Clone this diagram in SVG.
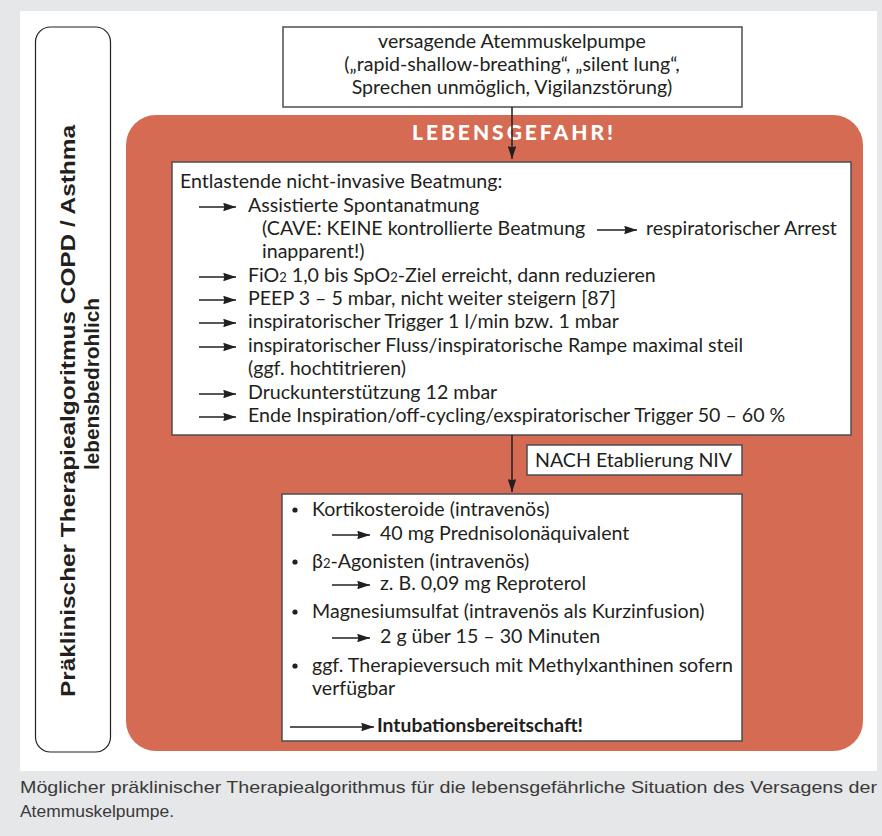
<svg xmlns="http://www.w3.org/2000/svg" width="882" height="836" viewBox="0 0 882 836">
<defs>
<marker id="ah" viewBox="0 0 12 8" refX="12" refY="4" markerWidth="13" markerHeight="8.5" markerUnits="userSpaceOnUse" orient="auto">
<path d="M0,0 L12,4 L0,8 L1,4 Z" fill="#231f20"/>
</marker>
<style>
.t{font-family:Lato,"Open Sans",sans-serif;font-size:19.6px;fill:#231f20}
.box{fill:#fff;stroke:#4d4d4f;stroke-width:1.5}
.ar{stroke:#231f20;stroke-width:1.3;fill:none;marker-end:url(#ah)}
.cn{stroke:#231f20;stroke-width:1.5;fill:none;marker-end:url(#ah)}
</style>
</defs>
<rect x="0" y="0" width="882" height="836" fill="#e6e7e8"/>
<rect x="20" y="11" width="857" height="760" fill="#fff"/>

<g id="side">
<rect x="35.5" y="27" width="75" height="725" rx="15" fill="#fff" stroke="#231f20" stroke-width="1.2"/>
<text transform="translate(75,411) rotate(-90)" text-anchor="middle" font-family="'Liberation Sans',sans-serif" font-weight="bold" font-size="20" fill="#231f20" textLength="572" lengthAdjust="spacingAndGlyphs">Präklinischer Therapiealgoritmus COPD / Asthma</text>
<text transform="translate(99,384) rotate(-90)" text-anchor="middle" font-family="'Liberation Sans',sans-serif" font-weight="bold" font-size="20" fill="#231f20" textLength="172" lengthAdjust="spacingAndGlyphs">lebensbedrohlich</text>
</g>

<g id="top">
<rect class="box" x="283" y="27" width="459" height="80"/>
<text class="t" text-anchor="middle" x="512" y="48">versagende Atemmuskelpumpe</text>
<text class="t" text-anchor="middle" x="512" y="71">(„rapid-shallow-breathing“, „silent lung“,</text>
<text class="t" text-anchor="middle" x="512" y="94">Sprechen unmöglich, Vigilanzstörung)</text>
</g>

<g id="danger">
<rect x="126" y="115" width="737" height="636" rx="30" fill="#d66b53"/>
<text x="412" y="140" font-family="Lato,sans-serif" font-weight="900" font-size="21" fill="#fff" textLength="201" lengthAdjust="spacing">LEBENSGEFAHR!</text>
</g>

<g id="niv">
<rect class="box" x="172" y="162" width="679" height="273"/>
<text class="t" x="180" y="188">Entlastende nicht-invasive Beatmung:</text>
<path class="ar" d="M199,207 H236"/>
<text class="t" x="248" y="212">Assistierte Spontanatmung</text>
<text class="t" x="262" y="235">(CAVE: KEINE kontrollierte Beatmung</text>
<path class="ar" d="M597,230 H637"/>
<text class="t" x="646" y="235">respiratorischer Arrest</text>
<text class="t" x="262" y="258">inapparent!)</text>
<path class="ar" d="M199,277 H236"/>
<text class="t" x="248" y="282">FiO<tspan font-size="13">2</tspan> 1,0 bis SpO<tspan font-size="13">2</tspan>-Ziel erreicht, dann reduzieren</text>
<path class="ar" d="M199,300 H236"/>
<text class="t" x="248" y="305">PEEP 3 – 5 mbar, nicht weiter steigern [87]</text>
<path class="ar" d="M199,323 H236"/>
<text class="t" x="248" y="328">inspiratorischer Trigger 1 l/min bzw. 1 mbar</text>
<path class="ar" d="M199,347 H236"/>
<text class="t" x="248" y="352">inspiratorischer Fluss/inspiratorische Rampe maximal steil</text>
<text class="t" x="248" y="375">(ggf. hochtitrieren)</text>
<path class="ar" d="M199,394 H236"/>
<text class="t" x="248" y="399">Druckunterstützung 12 mbar</text>
<path class="ar" d="M199,417 H236"/>
<text class="t" x="248" y="422">Ende Inspiration/off-cycling/exspiratorischer Trigger 50 – 60 %</text>
</g>

<g id="nach">
<rect class="box" x="527" y="445" width="215" height="30"/>
<text class="t" x="535" y="467">NACH Etablierung NIV</text>
</g>

<g id="drugs">
<rect class="box" x="282" y="494" width="460" height="247"/>
<circle cx="295" cy="510" r="2.6" fill="#231f20"/>
<text class="t" x="312" y="516">Kortikosteroide (intravenös)</text>
<path class="ar" d="M332,535 H370"/>
<text class="t" x="380" y="540">40 mg Prednisolonäquivalent</text>
<circle cx="295" cy="562" r="2.6" fill="#231f20"/>
<text class="t" x="312" y="568">β<tspan font-size="13">2</tspan>-Agonisten (intravenös)</text>
<path class="ar" d="M332,585 H370"/>
<text class="t" x="380" y="590">z. B. 0,09 mg Reproterol</text>
<circle cx="295" cy="612" r="2.6" fill="#231f20"/>
<text class="t" x="312" y="618">Magnesiumsulfat (intravenös als Kurzinfusion)</text>
<path class="ar" d="M332,638 H370"/>
<text class="t" x="380" y="643">2 g über 15 – 30 Minuten</text>
<circle cx="295" cy="666" r="2.6" fill="#231f20"/>
<text class="t" x="312" y="672">ggf. Therapieversuch mit Methylxanthinen sofern</text>
<text class="t" x="312" y="695">verfügbar</text>
<path class="ar" d="M290,727 H374"/>
<text x="377" y="732" font-family="Lato,sans-serif" font-weight="bold" font-size="19" fill="#231f20" textLength="206" lengthAdjust="spacingAndGlyphs">Intubationsbereitschaft!</text>
</g>

<g id="connectors">
<path class="cn" d="M512,107 V159"/>
<path class="cn" d="M512,435 V492"/>
</g>

<g id="caption">
<text x="20" y="793" font-family="'Liberation Sans',sans-serif" font-size="17" fill="#3a3a3a" textLength="857" lengthAdjust="spacingAndGlyphs">Möglicher präklinischer Therapiealgorithmus für die lebensgefährliche Situation des Versagens der</text>
<text x="20" y="817" font-family="'Liberation Sans',sans-serif" font-size="17" fill="#3a3a3a" textLength="154" lengthAdjust="spacingAndGlyphs">Atemmuskelpumpe.</text>
</g>
</svg>
